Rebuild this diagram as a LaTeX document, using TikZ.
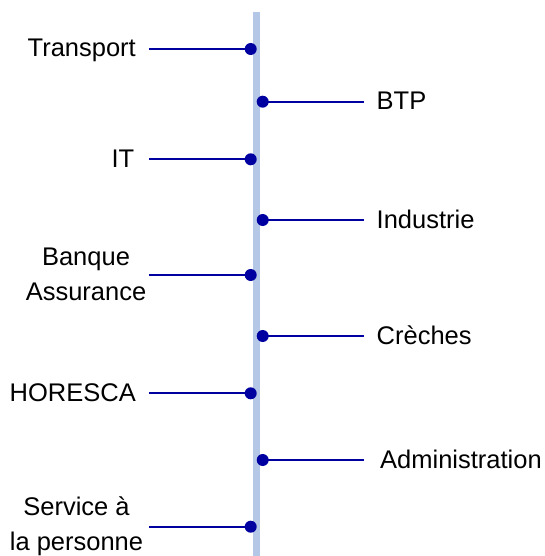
\documentclass[tikz,border=0pt]{standalone}
\usepackage{fontspec}
\setmainfont{Liberation Sans}
\definecolor{axisblue}{HTML}{B4C7E7}
\definecolor{tickblue}{HTML}{0000A0}
\begin{document}
\begin{tikzpicture}[x=1pt,y=-1pt,
  lbl/.style={inner sep=0pt,font=\fontsize{25.5}{35}\selectfont},
  dotnode/.style={circle,fill=tickblue,inner sep=0pt,minimum size=12pt},
  tick/.style={draw=tickblue,line width=2.2pt}]
\useasboundingbox (0,0) rectangle (544,556);
\coordinate (top) at (256.7,12);
\coordinate (bot) at (256.7,556);
\draw[axisblue,line width=6.5pt] (top) -- (bot);
% left items
\node[dotnode] (d1) at (250.7,49) {};
\coordinate (s1) at (149,49);
\node[lbl,anchor=base east] (t1) at (136,57) {Transport};
\node[dotnode] (d3) at (250.7,159.3) {};
\coordinate (s3) at (149,159.3);
\node[lbl,anchor=base east] (t3) at (134.5,167.5) {IT};
\node[dotnode] (d5) at (250.7,275) {};
\coordinate (s5) at (149,275);
\node[lbl,align=center,anchor=center] (t5) at (86,274) {Banque\\Assurance};
\node[dotnode] (d7) at (250.7,393.3) {};
\coordinate (s7) at (149,393.3);
\node[lbl,anchor=base east] (t7) at (136,401.5) {HORESCA};
\node[dotnode] (d9) at (250.7,526.7) {};
\coordinate (s9) at (149,526.7);
\node[lbl,align=center,anchor=center] (t9) at (76.5,526) {Service à\\la personne};
% right items
\node[dotnode] (d2) at (262.7,101.7) {};
\coordinate (e2) at (364,101.7);
\node[lbl,anchor=base west] (t2) at (376.5,110) {BTP};
\node[dotnode] (d4) at (262.7,220) {};
\coordinate (e4) at (364,220);
\node[lbl,anchor=base west] (t4) at (376.5,228) {Industrie};
\node[dotnode] (d6) at (262.7,336) {};
\coordinate (e6) at (364,336);
\node[lbl,anchor=base west] (t6) at (376.5,344.5) {Crèches};
\node[dotnode] (d8) at (262.7,460) {};
\coordinate (e8) at (364,460);
\node[lbl,anchor=base west] (t8) at (380,468.5) {Administration};
% ticks
\draw[tick] (s1) -- (d1.center);
\draw[tick] (s3) -- (d3.center);
\draw[tick] (s5) -- (d5.center);
\draw[tick] (s7) -- (d7.center);
\draw[tick] (s9) -- (d9.center);
\draw[tick] (d2.center) -- (e2);
\draw[tick] (d4.center) -- (e4);
\draw[tick] (d6.center) -- (e6);
\draw[tick] (d8.center) -- (e8);
\end{tikzpicture}
\end{document}
